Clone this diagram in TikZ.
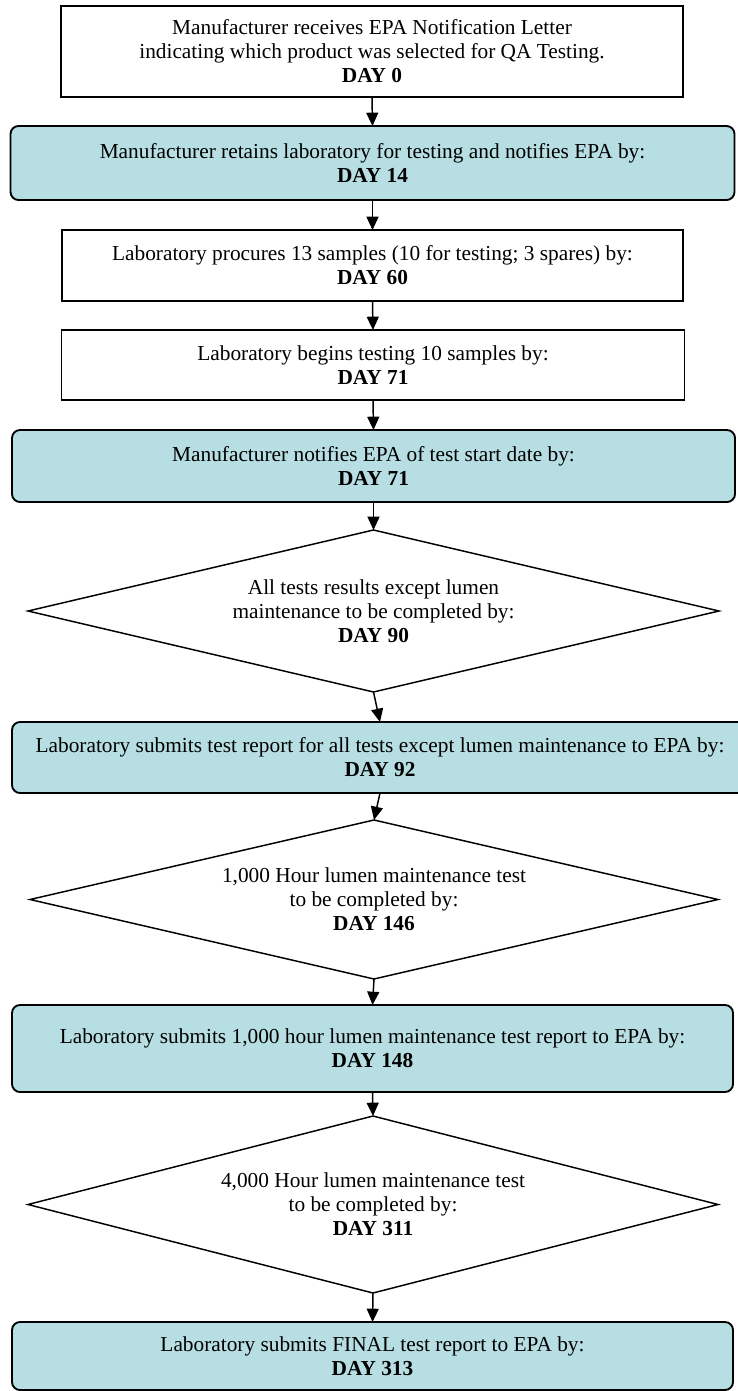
\documentclass[tikz,border=0pt]{standalone}
\usepackage{fontspec}
\setmainfont{Liberation Serif}
\usetikzlibrary{shapes.geometric,arrows.meta}
\definecolor{epablue}{RGB}{183,222,226}
\begin{document}
\begin{tikzpicture}[x=0.75pt,y=-0.75pt,
    every node/.style={font=\fontsize{16}{18}\selectfont,align=center,inner sep=0pt,outer sep=0pt},
    plain/.style={draw,line width=1.4pt,fill=white},
    epa/.style={draw,line width=1.4pt,rounded corners=6pt,fill=epablue},
    test/.style={draw,diamond,aspect=4.3,line width=1.1pt,fill=white},
    flow/.style={-{Triangle[length=10pt,width=9pt]},line width=1.1pt}]
        \useasboundingbox (0,0) rectangle (738,1391);
        % boxes
        \node[plain,minimum width=622*0.75pt,minimum height=91*0.75pt] (b1) at (372,51.5)
            {Manufacturer receives EPA Notification Letter\\indicating which product was selected for QA Testing.\\\textbf{DAY 0}};
        \node[epa,minimum width=724*0.75pt,minimum height=74*0.75pt] (r1) at (372.5,163)
            {Manufacturer retains laboratory for testing and notifies EPA by:\\\textbf{DAY 14}};
        \node[plain,minimum width=621*0.75pt,minimum height=71*0.75pt] (b3) at (372.5,265.5)
            {Laboratory procures 13 samples (10 for testing; 3 spares) by:\\\textbf{DAY 60}};
        \node[plain,minimum width=623*0.75pt,minimum height=70*0.75pt] (b4) at (373,365)
            {Laboratory begins testing 10 samples by:\\\textbf{DAY 71}};
        \node[epa,minimum width=723*0.75pt,minimum height=72*0.75pt] (r2) at (373.5,466)
            {Manufacturer notifies EPA of test start date by:\\\textbf{DAY 71}};
        \node[test,minimum width=691*0.75pt,minimum height=162*0.75pt] (d1) at (373.5,611)
            {All tests results except lumen\\maintenance to be completed by:\\\textbf{DAY 90}};
        \node[epa,minimum width=736*0.75pt,minimum height=71*0.75pt] (r3) at (380,757.5)
            {Laboratory submits test report for all tests except lumen maintenance to EPA by:\\\textbf{DAY 92}};
        \node[test,minimum width=688*0.75pt,minimum height=159*0.75pt] (d2) at (374,899.5)
            {1,000 Hour lumen maintenance test\\to be completed by:\\\textbf{DAY 146}};
        \node[epa,minimum width=721*0.75pt,minimum height=87*0.75pt] (r4) at (372.5,1048.5)
            {Laboratory submits 1,000 hour lumen maintenance test report to EPA by:\\\textbf{DAY 148}};
        \node[test,minimum width=690*0.75pt,minimum height=177*0.75pt] (d3) at (373,1204.5)
            {4,000 Hour lumen maintenance test\\to be completed by:\\\textbf{DAY 311}};
        \node[epa,minimum width=721*0.75pt,minimum height=68*0.75pt] (r5) at (372.5,1356)
            {Laboratory submits FINAL test report to EPA by:\\\textbf{DAY 313}};
        % arrows
        \draw[flow] (b1.south) -- (r1.north);
        \draw[flow] (r1.south) -- (b3.north);
        \draw[flow] (b3.south) -- (b4.north);
        \draw[flow] (b4.south) -- (r2.north);
        \draw[flow] (r2.south) -- (d1.north);
        \draw[flow] (d1.south) -- (r3.north);
        \draw[flow] (r3.south) -- (d2.north);
        \draw[flow] (d2.south) -- (r4.north);
        \draw[flow] (r4.south) -- (d3.north);
        \draw[flow] (d3.south) -- (r5.north);
\end{tikzpicture}
\end{document}
